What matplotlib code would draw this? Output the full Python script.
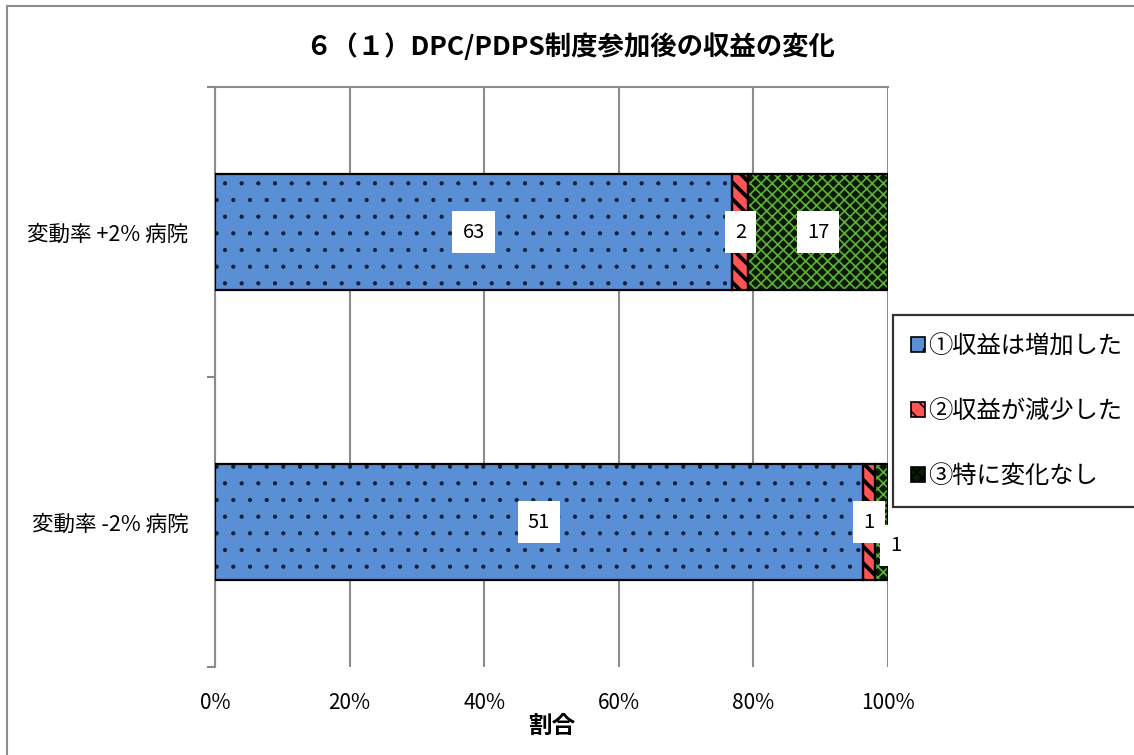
import matplotlib
matplotlib.use("Agg")
import matplotlib.pyplot as plt
from matplotlib.patches import Rectangle
import numpy as np

plt.rcParams['font.family'] = ['Noto Sans CJK JP', 'DejaVu Sans']

categories = ['変動率 -2% 病院', '変動率 +2% 病院']
series_names = ['①収益は増加した', '②収益が減少した', '③特に変化なし']
counts = {
    '①収益は増加した': [51, 63],
    '②収益が減少した': [1, 2],
    '③特に変化なし': [1, 17],
}
x_ticks = [0, 20, 40, 60, 80, 100]
x_ticklabels = ['0%', '20%', '40%', '60%', '80%', '100%']
title = '６（１）DPC/PDPS制度参加後の収益の変化'
xlabel = '割合'

face_colors = ['#5A8FD6', '#FF5555', '#0A1A05']
hatch_colors = ['#10203A', '#000000', '#5FB038']
hatches = ['.', '\\\\', 'xxx']
hatch_lws = [0.6, 2.8, 1.2]

fig = plt.figure(figsize=(11.34, 7.55), dpi=100)
ax = fig.add_axes([215/1134, 1-667/755, 673/1134, 580/755])

vals = np.array([counts[s] for s in series_names], dtype=float)
totals = vals.sum(axis=0)
pct = vals / totals * 100
y = np.arange(len(categories))
left = np.zeros(len(categories))
handles = []
for i, s in enumerate(series_names):
    with plt.rc_context({'hatch.linewidth': hatch_lws[i]}):
        b = ax.barh(y, pct[i], left=left, height=0.4, color=face_colors[i],
                    edgecolor=hatch_colors[i], hatch=hatches[i], linewidth=0, zorder=3, label=s)
    ax.barh(y, pct[i], left=left, height=0.4, facecolor='none',
            edgecolor='black', linewidth=1.6, zorder=4)
    handles.append(b)
    for j in range(len(categories)):
        cx = left[j] + pct[i][j] / 2
        txt = str(int(vals[i][j]))
        bbox = dict(boxstyle='square,pad=0.5', facecolor='white', edgecolor='none')
        if i == 2 and j == 0:
            ax.annotate(txt, (cx, y[j]), xytext=(10, -17), textcoords='offset points',
                        ha='center', va='center', fontsize=14.5, bbox=bbox, zorder=5,
                        annotation_clip=False)
        else:
            ax.text(cx, y[j], txt, ha='center', va='center', fontsize=14.5, bbox=bbox, zorder=5)
    left = left + pct[i]

ax.set_xlim(0, 100)
ax.set_ylim(-0.5, 1.5)
ax.set_xticks(x_ticks)
ax.set_xticklabels(x_ticklabels, fontsize=15)
ax.tick_params(axis='x', length=0, pad=18)
ax.set_yticks(y)
ax.set_yticklabels(categories, fontsize=15.5)
ax.tick_params(axis='y', which='major', length=0, pad=19)
ax.set_yticks([-0.5, 0.5, 1.5], minor=True)
ax.tick_params(axis='y', which='minor', length=6, width=1.5, color='#888888', direction='out')
ax.grid(axis='x', color='#8C8C8C', linewidth=1.5, zorder=0)
ax.set_axisbelow(True)
for sp in ['right', 'bottom']:
    ax.spines[sp].set_visible(False)
for sp in ['left', 'top']:
    ax.spines[sp].set_color('#8C8C8C')
    ax.spines[sp].set_linewidth(1.5)

ax.set_xlabel(xlabel, fontsize=17, fontweight='bold', labelpad=0)
fig.text(0.503, 1-47/755, title, ha='center', va='center', fontsize=19, fontweight='bold')

leg = fig.legend(handles=handles, labels=series_names, loc='upper left',
                 bbox_to_anchor=(893/1134, 1-315/755), fontsize=17.5, frameon=True,
                 fancybox=False, edgecolor='black', handlelength=0.55, handleheight=0.55,
                 handletextpad=0.15, labelspacing=1.6, borderpad=0.75, borderaxespad=0)
leg.get_frame().set_linewidth(1.6)
for h in leg.legend_handles:
    h.set_linewidth(1.2)
    h.set_edgecolor('black')

fig.patches.append(Rectangle((7/1134, -0.1), 1.2, 1-6/755+0.1, transform=fig.transFigure,
                             fill=False, edgecolor='#8C8C8C', linewidth=1.5))

fig.savefig('out.png', dpi=100)
